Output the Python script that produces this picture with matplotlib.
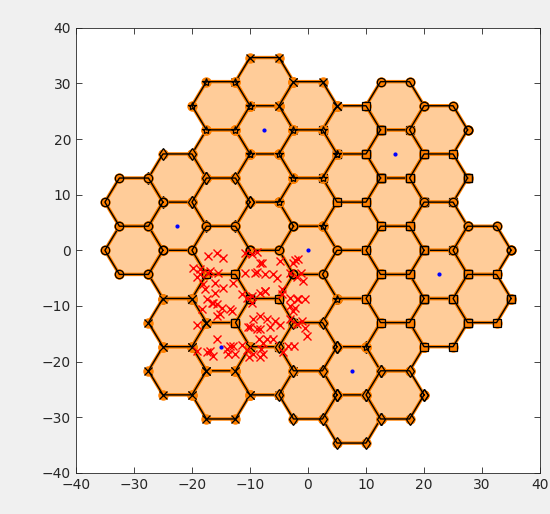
import numpy as np
import matplotlib.pyplot as plt

R = 5.0  # hexagon radius (centre to vertex)

# cluster centres (blue dots), in drawing order
cluster_x = [0.0, 15.0, -7.5, -22.5, -15.0, 7.5, 22.5]
cluster_y = [0.0, 17.32, 21.65, 4.33, -17.32, -21.65, -4.33]
# marker of the cluster's own cells, and of its two wrapped cells
own_marker = ['o', 's', '*', 'o', 'x', 'd', 's']
wrap_marker = ['*', 'o', 'x', 'd', 's', '*', 'o']

# user positions
user_x = [-15.75, -17.19, -10.86, -9.71, -8.85, -8.28, -4.83, -2.53, -1.78, -19.89,
          -18.62, -17.19, -19.2, -15.46, -10.86, -8.85, -5.98, -3.11, -1.96, -18.05,
          -16.04, -14.6, -16.32, -17.47, -18.33, -15.75, -14.89, -13.16, -11.44, -9.71,
          -8.28, -7.41, -4.54, -3.11, -1.96, -2.24, -3.11, -19.2, -15.75, -9.43,
          -8.28, -7.13, -5.69, -4.83, -6.55, -8.28, -10.0, -3.11, -1.96, -15.75,
          -12.87, -11.44, -10.58, -9.43, -8.45, -7.13, -5.98, -8.11, -7.7, -8.28,
          -10.17, -12.59, -14.02, -17.47, -19.2, -16.32, -2.24, -5.4, -7.42, -9.14,
          -7.99, -4.54, -1.67, -7.42, -2.53, -1.09, -10.29, -8.85, -10.58, -9.71,
          -13.45, -15.17, -16.61, -17.76, -12.87, -16.04, -18.62, -16.9, -14.6, -16.9,
          -13.45, -13.74, -7.7, -4.25, -3.39, -1.2, -0.9, -0.5, -0.6, -0.2, -2.4]
user_y = [-0.54, -1.02, -0.54, -0.72, -0.3, -2.22, -1.92, -2.22, -1.62, -3.11,
          -3.29, -4.01, -4.73, -4.01, -4.01, -3.83, -4.19, -4.01, -4.73, -6.1,
          -7.6, -6.7, -9.39, -8.67, -10.59, -9.69, -10.29, -10.88, -7.9, -8.19,
          -7.72, -7.3, -7.9, -8.49, -8.79, -10.29, -9.99, -13.46, -11.78, -12.26,
          -11.78, -12.38, -12.68, -13.46, -13.7, -14.17, -13.87, -12.38, -13.28, -15.97,
          -17.16, -17.04, -17.88, -18.66, -15.97, -15.85, -15.97, -17.76, -18.66, -19.26,
          -19.26, -18.66, -17.76, -18.36, -18.06, -19.08, -1.74, -4.9, -4.31, -4.01,
          -2.22, -7.0, -8.79, -7.3, -10.88, -12.68, -13.87, -14.17, -8.49, -9.39,
          -10.59, -11.48, -9.39, -7.0, -5.8, -5.8, -4.31, -3.71, -1.32, -18.06,
          -17.16, -18.66, -16.57, -18.36, -17.16, -4.0, -5.5, -8.8, -13.9, -15.4, -17.2]

h = np.sqrt(3) * R
# centre first, then the two wrapped cells, then the remaining four
cell_dx = [0, 0, 1.5 * R, 0, -1.5 * R, -1.5 * R, 1.5 * R]
cell_dy = [0, h, h / 2, -h, -h / 2, h / 2, -h / 2]

ang = np.deg2rad(np.arange(0, 361, 60))
hex_x = R * np.cos(ang)
hex_y = R * np.sin(ang)

fig = plt.figure(figsize=(5.5, 5.14), dpi=100, facecolor='#f0f0f0')
ax = fig.add_axes([0.138, 0.080, 0.844, 0.866])

cells = []
for cx, cy, m_own, m_wrap in zip(cluster_x, cluster_y, own_marker, wrap_marker):
    for k, (dx, dy) in enumerate(zip(cell_dx, cell_dy)):
        m = m_wrap if k in (1, 2) else m_own
        cells.append((cx + dx, cy + dy, m))

for x0, y0, m in cells:
    ax.fill(x0 + hex_x, y0 + hex_y, color='#ffcc99', lw=0, zorder=1)

for x0, y0, m in cells:
    ax.plot(x0 + hex_x, y0 + hex_y, '-o', color='#ff8000', lw=2.5, ms=6.5,
            mfc='#ff8000', mec='#ff8000', zorder=2)
    ax.plot(x0 + hex_x, y0 + hex_y, '-', marker=m, color='k', lw=1.0, ms=6,
            mfc='none', mec='k', mew=0.9, zorder=2)

ax.plot(cluster_x, cluster_y, '.', color='#0000ff', ms=4, zorder=4)
ax.plot(user_x, user_y, 'x', color='#ff0000', ms=6, mew=1.0, zorder=5)

ax.set_xlim(-40, 40)
ax.set_ylim(-40, 40)
ax.set_xticks(np.arange(-40, 41, 10))
ax.set_yticks(np.arange(-40, 41, 10))
ax.tick_params(direction='in', top=True, right=True, length=4, width=0.6,
               colors='#262626', labelsize=10)
for s in ax.spines.values():
    s.set_color('#262626')
    s.set_linewidth(0.6)

fig.savefig('out.png', dpi=100, facecolor=fig.get_facecolor())
